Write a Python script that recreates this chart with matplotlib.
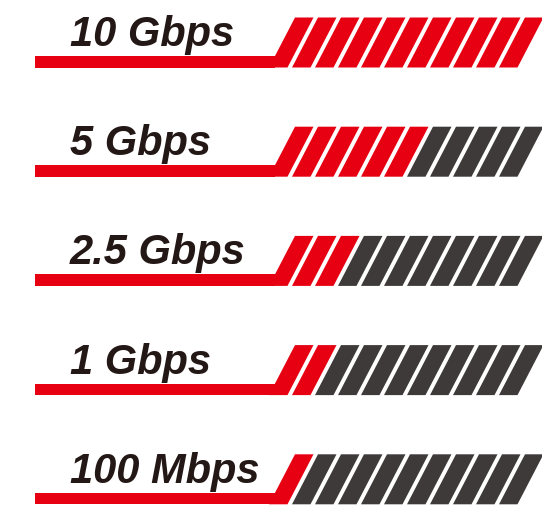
import matplotlib.pyplot as plt
from matplotlib.patches import Polygon

# speed tiers, top to bottom, and how many stripes are lit red
labels = ['10 Gbps', '5 Gbps', '2.5 Gbps', '1 Gbps', '100 Mbps']
red_counts = [11, 6, 3, 2, 1]
n_stripes = 11

RED = '#e60012'
GRAY = '#3e3a39'
TEXT = '#231815'

W, H = 542, 505
fig = plt.figure(figsize=(W / 100, H / 100), dpi=100)
ax = fig.add_axes([0, 0, 1, 1])
ax.set_xlim(0, W)
ax.set_ylim(H, 0)
ax.axis('off')

# layout (pixels)
row_bottom0 = 67.5
row_step = 109.2
bar_h = 11.5
stripe_h = 50
slant = 0.52          # x shift per px of height
x0_top = 295          # top-left of first stripe
period = 23.0
stripe_w = 18.5
bar_left = 35

for i, (label, nred) in enumerate(zip(labels, red_counts)):
    yb = row_bottom0 + i * row_step
    yt = yb - stripe_h
    off = slant * stripe_h

    # base bar joined to first stripe
    bx = x0_top - slant * (stripe_h - bar_h)
    ax.add_patch(Polygon([(bar_left, yb), (bar_left, yb - bar_h), (bx, yb - bar_h),
                          (bx, yb)], closed=True, color=RED, lw=0))

    for k in range(n_stripes):
        xl = x0_top + k * period
        pts = [(xl - off, yb), (xl, yt), (xl + stripe_w, yt), (xl + stripe_w - off, yb)]
        ax.add_patch(Polygon(pts, closed=True, color=RED if k < nred else GRAY, lw=0))

    ax.text(70, yb - bar_h - 10, label, fontsize=30, fontweight='bold', fontstyle='italic',
            family='Liberation Sans', color=TEXT, ha='left', va='baseline')

fig.savefig('out.png', dpi=100)
